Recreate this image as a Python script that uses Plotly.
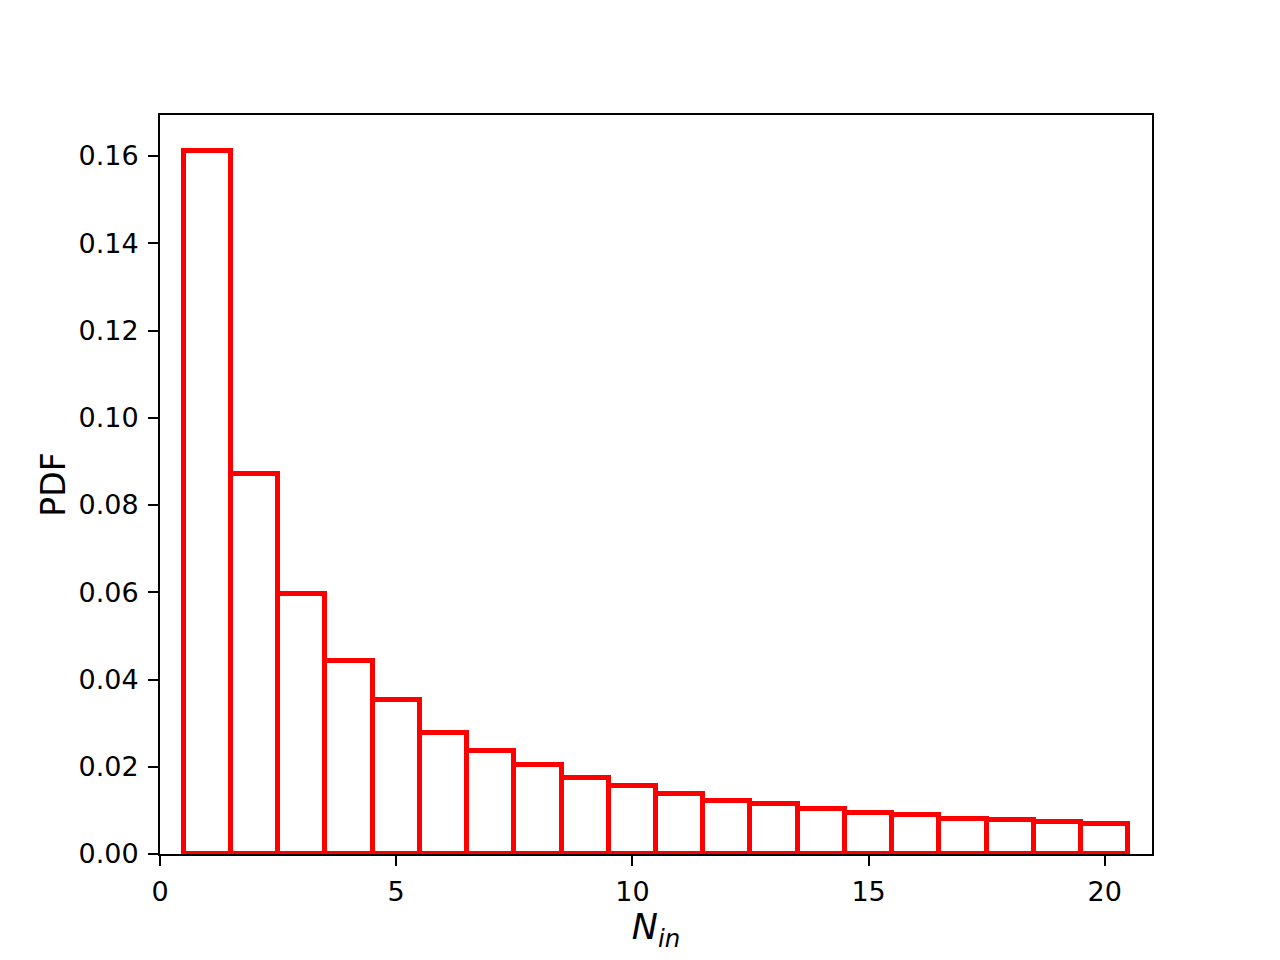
import plotly.graph_objects as go

# histogram of N_in, unit bins centred on the integers 1..20
n_in = list(range(1, 21))
pdf = [0.1612, 0.0872, 0.0596, 0.0443, 0.0353, 0.0278, 0.0237, 0.0203, 0.0175, 0.0155,
       0.0138, 0.0122, 0.0115, 0.0104, 0.0095, 0.0090, 0.0081, 0.0078, 0.0074, 0.0069]
x_ticks = [0, 5, 10, 15, 20]
y_ticks = [0.00, 0.02, 0.04, 0.06, 0.08, 0.10, 0.12, 0.14, 0.16]

fig = go.Figure()
fig.add_trace(
    go.Bar(
        x=n_in,
        y=pdf,
        width=1,
        marker=dict(color="rgba(255,255,255,0)", line=dict(color="#ff0000", width=5)),
        hoverinfo="x+y",
        showlegend=False,
    )
)

axis_style = dict(
    showline=True, linecolor="black", linewidth=2, mirror=True,
    ticks="outside", ticklen=10, tickwidth=2, tickcolor="black",
    showgrid=False, zeroline=False,
    tickfont=dict(family="DejaVu Sans", size=27, color="black"),
)

# the page body adds ~8px offset, margins compensate for it
fig.update_layout(
    width=1280, height=960,
    margin=dict(l=152, r=136, t=107, b=114),
    paper_bgcolor="white", plot_bgcolor="white",
    bargap=0,
    xaxis=dict(
        range=[0, 21], tickvals=x_ticks, ticklabelstandoff=3,
        title=dict(text="<i>N</i><sub><i>in</i></sub>", standoff=8,
                   font=dict(family="DejaVu Sans", size=35, color="black")),
        **axis_style,
    ),
    yaxis=dict(
        range=[0, 0.1694], tickvals=y_ticks, tickformat=".2f", ticklabelstandoff=4,
        title=dict(text="PDF", standoff=3,
                   font=dict(family="DejaVu Sans", size=33, color="black")),
        **axis_style,
    ),
)

fig.write_html("out.html")
